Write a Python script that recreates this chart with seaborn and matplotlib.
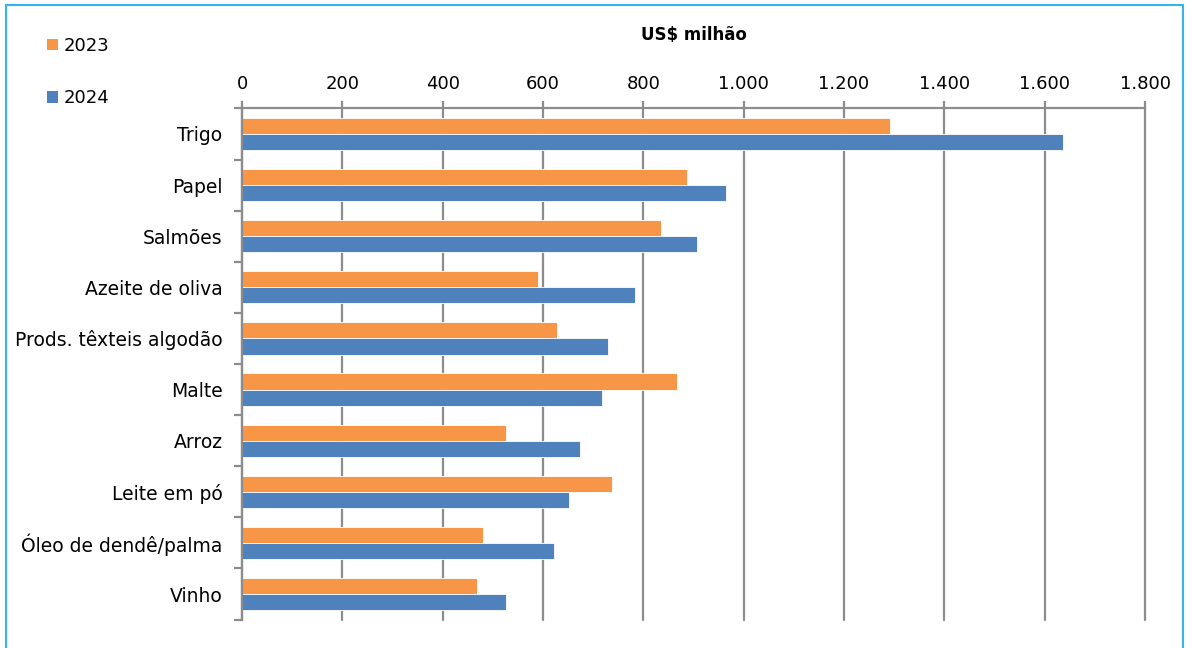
import matplotlib
matplotlib.use("Agg")
import matplotlib.pyplot as plt
import seaborn as sns
import pandas as pd
import numpy as np
from matplotlib.patches import Rectangle, Patch
from matplotlib.ticker import FixedLocator, FuncFormatter

categories = ["Trigo", "Papel", "Salmões", "Azeite de oliva", "Prods. têxteis algodão",
              "Malte", "Arroz", "Leite em pó", "Óleo de dendê/palma", "Vinho"]
values_2023 = [1291, 887, 835, 590, 627, 867, 527, 738, 481, 468]
values_2024 = [1637, 964, 907, 784, 729, 718, 673, 651, 621, 526]
series = ["2023", "2024"]
x_ticks = [0, 200, 400, 600, 800, 1000, 1200, 1400, 1600, 1800]

df = pd.DataFrame({
    "Produto": categories * 2,
    "Ano": [series[0]] * len(categories) + [series[1]] * len(categories),
    "Valor": values_2023 + values_2024,
})

sns.set_theme(style="white")
plt.rcParams['font.family'] = ['DejaVu Sans']

colors = {"2023": "#F79646", "2024": "#4F81BD"}
grid_c = "#8C8C8C"

fig = plt.figure(figsize=(11.92, 6.48), dpi=100)
ax = fig.add_axes([242/1192, 1-619.6/648, (1145-242)/1192, (619.6-108.4)/648])

sns.barplot(data=df, y="Produto", x="Valor", hue="Ano", orient="h",
            palette=colors, order=categories, hue_order=series, saturation=1,
            width=0.63, ax=ax, legend=False, edgecolor="white", linewidth=0.6)

ax.set_xlim(0, 1800)
ax.set_ylim(len(categories) - 0.5, -0.5)
ax.xaxis.set_major_locator(FixedLocator(x_ticks))
ax.xaxis.set_major_formatter(FuncFormatter(lambda v, p: f"{int(v):,}".replace(",", ".")))
ax.xaxis.tick_top()
ax.xaxis.set_label_position("top")
ax.set_xlabel("")
ax.set_ylabel("")
ax.grid(axis="x", color=grid_c, linewidth=1.6, zorder=0)
ax.set_axisbelow(True)
for line in ax.get_xgridlines():
    line.set_clip_on(False)
for s in ["right", "bottom"]:
    ax.spines[s].set_visible(False)
for s in ["top", "left"]:
    ax.spines[s].set_visible(True)
    ax.spines[s].set_color(grid_c)
    ax.spines[s].set_linewidth(1.6)
ax.tick_params(axis="x", which="major", top=True, bottom=False, length=5, width=1.6,
               color=grid_c, labelsize=13, pad=6, labelcolor="black")
ax.tick_params(axis="y", which="major", left=False, length=0, labelsize=13.5, pad=14,
               labelcolor="black")
ax.yaxis.set_minor_locator(FixedLocator(np.arange(-0.5, len(categories), 1.0)))
ax.tick_params(axis="y", which="minor", left=True, length=6, width=1.6, color=grid_c)

fig.text(694/1192, 1-35/648, "US$ milhão", ha="center", va="center",
         fontsize=12, fontweight="bold", color="black")

handles = [Patch(facecolor=colors[s], edgecolor="none") for s in series]
fig.legend(handles, series, loc="upper left", bbox_to_anchor=(38/1192, 1-28/648),
           frameon=False, fontsize=13, handlelength=0.6, handleheight=0.6,
           handletextpad=0.3, labelspacing=1.9, borderpad=0, labelcolor="black")

fig.patches.append(Rectangle((6/1192, -0.02), (1183-6)/1192, 1.02-5/648,
                             transform=fig.transFigure, fill=False,
                             edgecolor="#33B5F0", linewidth=1.5))

fig.savefig("out.png", dpi=100)
